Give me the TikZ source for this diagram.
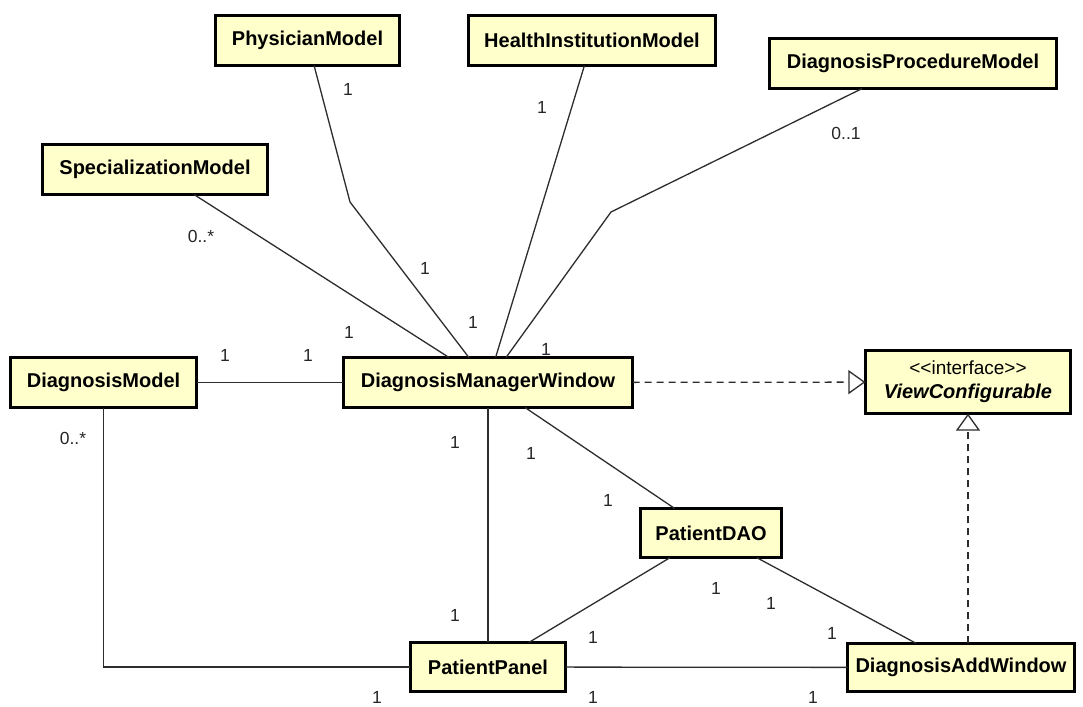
\documentclass[tikz,border=0pt]{standalone}
\usepackage{fontspec}
\newfontfamily\uml{Liberation Sans}
\usetikzlibrary{arrows.meta}
\definecolor{classfill}{RGB}{255,255,204}
\definecolor{linegray}{RGB}{45,45,45}
\newcommand\umlcls[6]{\node[cls, minimum width={(#4-#2-2.8)*1pt}, minimum height={(#5-#3-2.8)*1pt}] (#1) at ({#2+1.4},{#3+1.4}) {#6};}
\begin{document}
\begin{tikzpicture}[x=1pt,y=-1pt,
  cls/.style={draw=black, line width=2.8pt, fill=classfill, inner sep=0pt, outer sep=0pt, anchor=north west, align=center, font=\uml\bfseries\fontsize{20}{23}\selectfont},
  assoc/.style={draw=linegray, line width=1.3pt},
  realize/.style={draw=linegray, line width=1.3pt, dash pattern=on 7pt off 5pt, -{Triangle[open, length=17pt, width=24pt, line width=1.3pt, fill=white]}},
  mult/.style={font=\uml\fontsize{17.5}{20}\selectfont, text=black!85, inner sep=0pt}]
\fill[white] (0,0) rectangle (1083,706);
\useasboundingbox (0,0) rectangle (1083,706);

% classes
\umlcls{phys}{214}{14}{401}{67}{PhysicianModel}
\umlcls{health}{467}{14}{717}{67}{HealthInstitutionModel}
\umlcls{proc}{768}{37}{1058}{90}{DiagnosisProcedureModel}
\umlcls{spec}{41}{143}{269}{196}{SpecializationModel}
\umlcls{dmodel}{9}{356}{198}{409}{DiagnosisModel}
\umlcls{dmw}{342}{356}{634}{409}{DiagnosisManagerWindow}
\umlcls{vc}{864}{349}{1072}{415}{{\mdseries\fontsize{19}{25}\selectfont <<interface>>}\\[1pt]{\itshape ViewConfigurable}}
\umlcls{dao}{639}{507}{783}{559}{PatientDAO}
\umlcls{pp}{409}{641}{567}{693}{PatientPanel}
\umlcls{daw}{846}{642}{1076}{693}{DiagnosisAddWindow}

% bend points
\coordinate (pbend) at (350,202);
\coordinate (dbend) at (611,212);

% associations
\draw[assoc] (phys) -- (pbend) -- (dmw);
\draw[assoc] (spec) -- (dmw);
\draw[assoc] (health) -- (dmw);
\draw[assoc] (proc) -- (dbend) -- (dmw);
\draw[assoc] (dmodel) -- (dmw);
\draw[assoc] (dmodel) |- (pp);
\draw[assoc] (dmw) -- (pp);
\draw[assoc] (dmw) -- (dao);
\draw[assoc] (dao) -- (pp);
\draw[assoc] (dao) -- (daw);
\draw[assoc] (pp) -- (daw);

% realizations
\draw[realize] (dmw) -- (vc);
\draw[realize] (vc.south |- daw.north) -- (vc.south);

% multiplicities
\node[mult] (m1) at (348,89) {1};
\node[mult] (m2) at (201,236) {0..*};
\node[mult] (m3) at (425,268) {1};
\node[mult] (m4) at (473,322) {1};
\node[mult] (m5) at (349,332) {1};
\node[mult] (m6) at (542,107) {1};
\node[mult] (m7) at (846,133) {0..1};
\node[mult] (m8) at (546,349) {1};
\node[mult] (m9) at (225,355) {1};
\node[mult] (m10) at (308,355) {1};
\node[mult] (m11) at (73,438) {0..*};
\node[mult] (m12) at (455,442) {1};
\node[mult] (m13) at (531,453) {1};
\node[mult] (m14) at (608,500) {1};
\node[mult] (m15) at (455,615) {1};
\node[mult] (m16) at (716,588) {1};
\node[mult] (m17) at (771,603) {1};
\node[mult] (m18) at (593,637) {1};
\node[mult] (m19) at (832,633) {1};
\node[mult] (m20) at (377,697) {1};
\node[mult] (m21) at (593,697) {1};
\node[mult] (m22) at (813,697) {1};
\end{tikzpicture}
\end{document}
